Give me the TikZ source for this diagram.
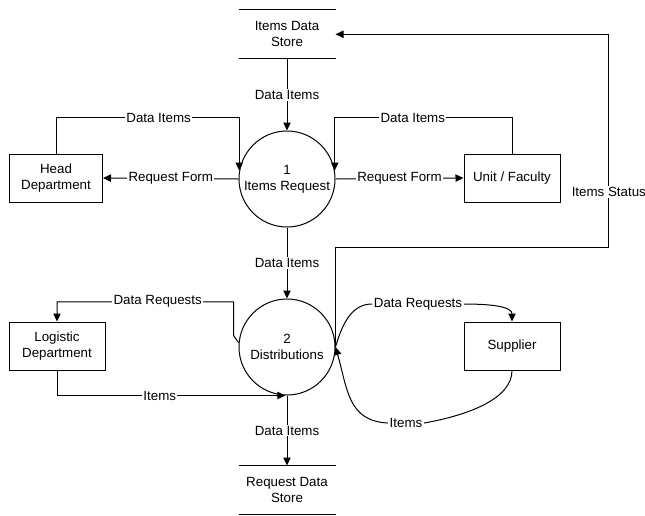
\documentclass[tikz,border=0pt]{standalone}
\usepackage{fontspec}
\setmainfont{Liberation Sans}
\usetikzlibrary{arrows.meta}
\begin{document}
\begin{tikzpicture}[x=0.75pt,y=-0.75pt,
  font=\fontsize{10}{12}\selectfont,
  every path/.style={line width=0.75pt},
  box/.style={draw, minimum width=72pt, minimum height=36pt, align=center, inner sep=2pt},
  proc/.style={draw, circle, minimum size=72pt, inner sep=0pt, align=center},
  store/.style={minimum width=72pt, minimum height=36pt, inner sep=0pt, align=center},
  lbl/.style={fill=white, inner sep=1pt},
  flow/.style={-{Triangle[length=6pt,width=5.5pt]}}]
\useasboundingbox (0,0) rectangle (645,515);

% data stores
\node[store] (s1) at (287,34.3) {Items Data\\Store};
\node[store] (s2) at (287,490) {Request Data\\Store};
\foreach \s in {s1,s2}
  \draw (\s.north west) -- (\s.north east) (\s.south west) -- (\s.south east);

% processes
\node[proc] (p1) at (287,179) {1\\Items Request};
\node[proc] (p2) at (287,347) {2\\Distributions};

% external entities
\node[box, minimum width=69.75pt] (head) at (56,178) {Head\\Department};
\node[box] (unit) at (512,178) {Unit / Faculty};
\node[box] (logi) at (57,346) {Logistic\\Department};
\node[box] (sup) at (512,346) {Supplier};

% flows around process 1
\draw[flow] (s1.south) -- node[lbl] {Data Items} (p1.north);
\draw[flow] (head.north) -- ++(0,-36) -| node[lbl,pos=0.28] {Data Items} (p1.170);
\draw[flow] (p1.west) -- node[lbl] {Request Form} (head.east);
\draw[flow] (unit.north) -- ++(0,-36) -| node[lbl,pos=0.28] {Data Items} (p1.10);
\draw[flow] (p1.east) -- node[lbl] {Request Form} (unit.west);
\draw[flow] (p1.south) -- node[lbl] {Data Items} (p2.north);

% status feedback to the items store
\draw[flow] (p2.east) -- ++(0,-100) -- ++(273.3,0) |- node[lbl,pos=0.13] {Items Status} (s1.east);

% flows around process 2
\draw[flow] (p2.175) -- ++(-5,-7) -- ++(0,-34) -| node[lbl,pos=0.215] {Data Requests} (logi.north);
\draw[flow] (logi.south) |- node[lbl,pos=0.725] {Items} (p2.268);
\draw[flow] (p2.south) -- node[lbl] {Data Items} (s2.north);

% curved flows with the supplier
\node[lbl] (dreq) at (418,304) {Data Requests};
\node[lbl] (itm) at (406,423) {Items};
\draw (p2.east) .. controls +(8,-28) and +(-18,0) .. (dreq.west);
\draw[flow] (dreq.east) .. controls +(32,0) and +(0,-14) .. (sup.north);
\draw (sup.south) .. controls +(0,28) and +(45,-8) .. (itm.east);
\draw[flow] (itm.west) .. controls +(-40,-2) and +(12,42) .. (p2.east);
\end{tikzpicture}
\end{document}
